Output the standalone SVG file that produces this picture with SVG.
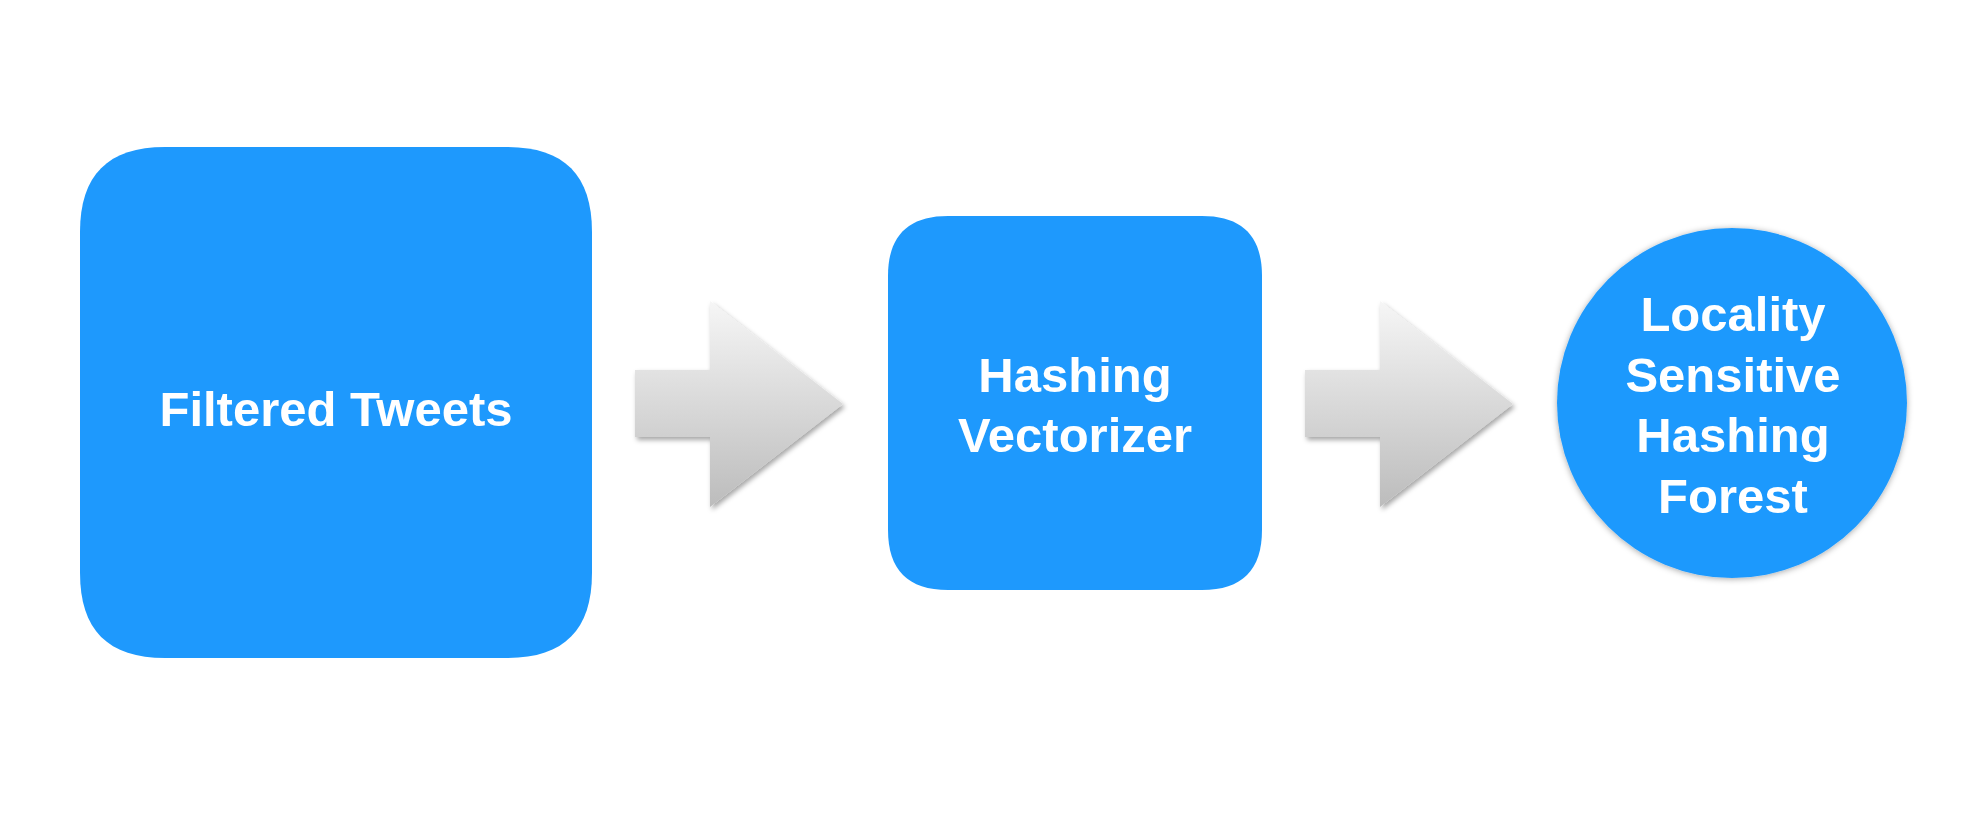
<svg xmlns="http://www.w3.org/2000/svg" width="1988" height="826" viewBox="0 0 1988 826">
<style>
.node{fill:#1e99fd}
.lbl{font-family:"Liberation Sans",Arial,Helvetica,sans-serif;font-weight:bold;font-size:49px;fill:#ffffff;text-anchor:middle}
.arrow{fill:url(#ag);filter:url(#as)}
</style>
<defs>
<linearGradient id="ag" x1="0" y1="0" x2="0" y2="1">
<stop offset="0" stop-color="#f6f6f6"/>
<stop offset="1" stop-color="#bcbcbc"/>
</linearGradient>
<filter id="as" x="-20%" y="-20%" width="140%" height="140%">
<feDropShadow dx="2" dy="3" stdDeviation="2.5" flood-color="#000" flood-opacity="0.35"/>
</filter>
<filter id="cs" x="-10%" y="-10%" width="120%" height="120%">
<feDropShadow dx="0" dy="1" stdDeviation="3" flood-color="#000" flood-opacity="0.35"/>
</filter>
</defs>
<rect width="1988" height="826" fill="#ffffff"/>
<g id="connectors">
<path class="arrow" d="M635,370 H710 V301 L843,404 L710,507 V437 H635 Z"/>
<path class="arrow" d="M1305,370 H1380 V301 L1513,404 L1380,507 V437 H1305 Z"/>
</g>
<g id="node-filtered-tweets">
<path class="node" d="M80,232 C80,175 108,147 165,147 H507 C564,147 592,175 592,232 V573 C592,630 564,658 507,658 H165 C108,658 80,630 80,573 Z"/>
<text class="lbl" x="336" y="426">Filtered Tweets</text>
</g>
<g id="node-hashing-vectorizer">
<path class="node" d="M888,276 C888,236 908,216 948,216 H1202 C1242,216 1262,236 1262,276 V530 C1262,570 1242,590 1202,590 H948 C908,590 888,570 888,530 Z"/>
<text class="lbl" x="1075" y="392">Hashing</text>
<text class="lbl" x="1075" y="452">Vectorizer</text>
</g>
<g id="node-lsh-forest">
<circle class="node" cx="1732" cy="403" r="175" filter="url(#cs)"/>
<text class="lbl" x="1733" y="331">Locality</text>
<text class="lbl" x="1733" y="392">Sensitive</text>
<text class="lbl" x="1733" y="452">Hashing</text>
<text class="lbl" x="1733" y="513">Forest</text>
</g>
</svg>
